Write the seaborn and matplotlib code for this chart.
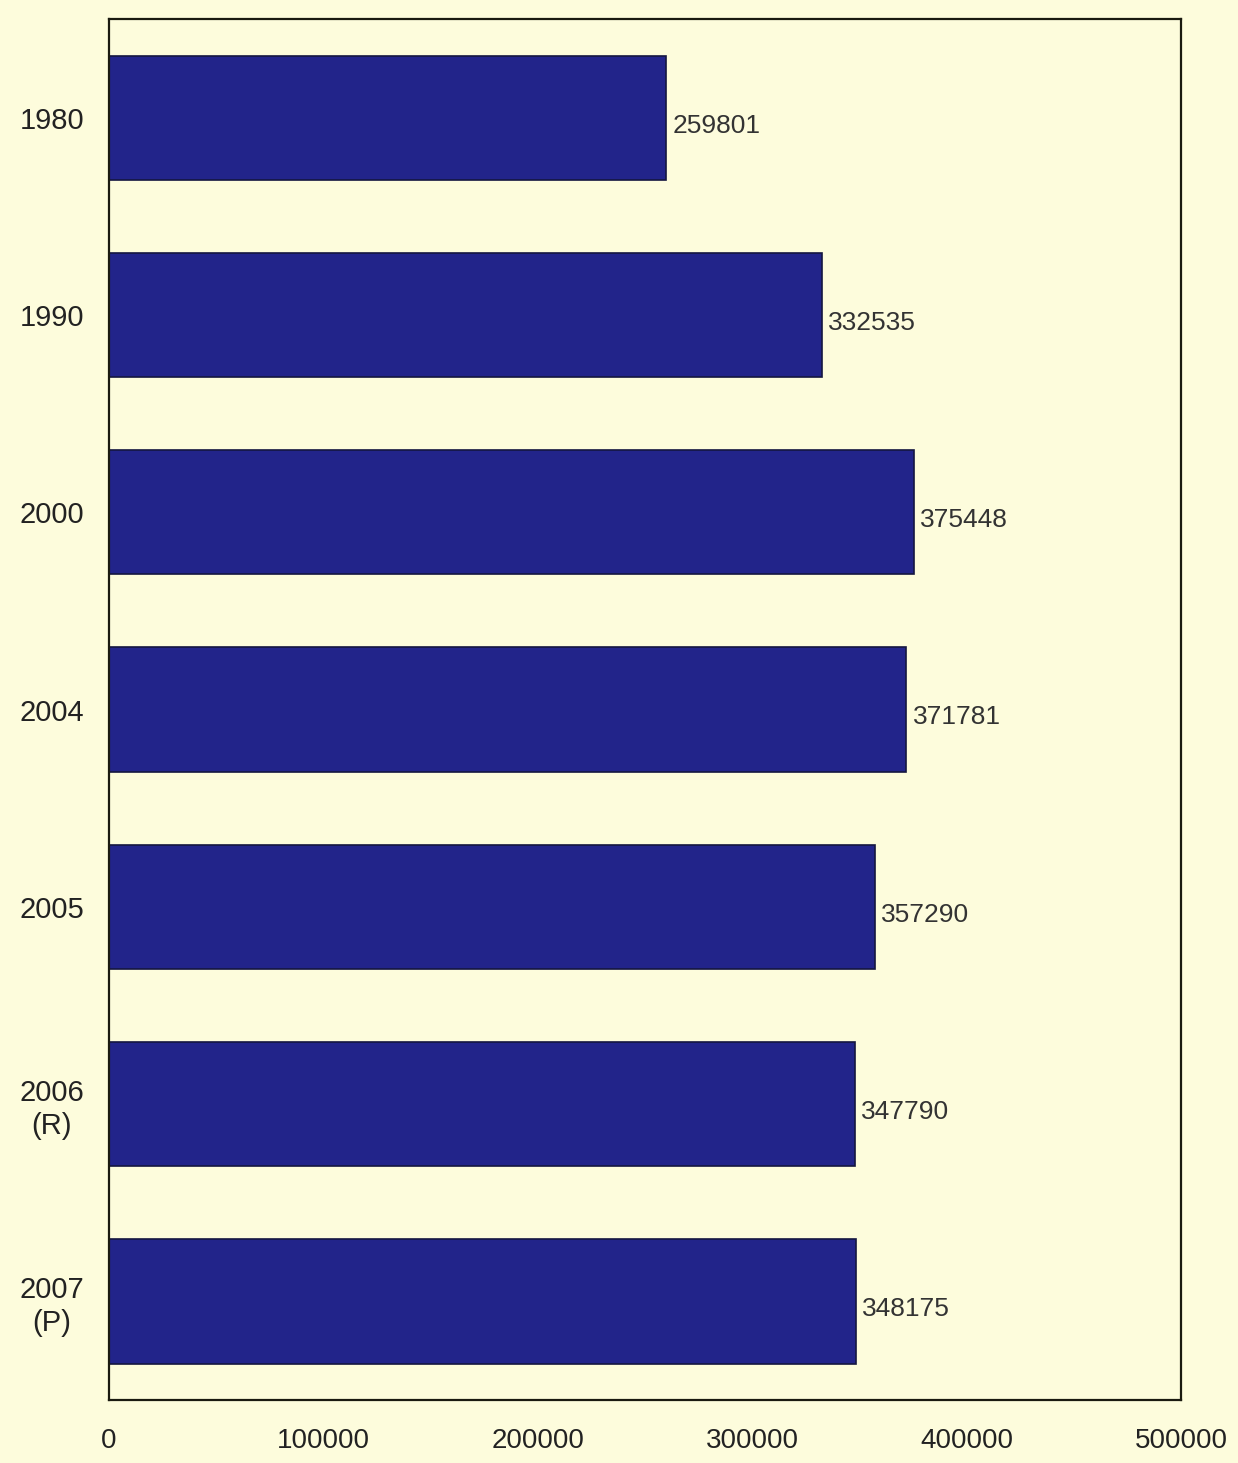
import matplotlib
matplotlib.use("Agg")
import matplotlib.pyplot as plt
import seaborn as sns
import pandas as pd

years = ["1980", "1990", "2000", "2004", "2005", "2006\n(R)", "2007\n(P)"]
values = [259801, 332535, 375448, 371781, 357290, 347790, 348175]
xticks = [0, 100000, 200000, 300000, 400000, 500000]

sns.set_theme(style="white")
plt.rcParams['font.family'] = ['Liberation Sans', 'DejaVu Sans']

bg = "#FDFCDC"
bar_color = "#22248A"

df = pd.DataFrame({"year": years, "value": values})

fig = plt.figure(figsize=(12.38, 14.63), dpi=100, facecolor=bg)
ax = fig.add_axes([0.088, 0.043, 0.866, 0.944])
ax.set_facecolor(bg)

sns.barplot(data=df, y="year", x="value", orient="h", color=bar_color,
            saturation=1, width=0.63, edgecolor="#141640", linewidth=1.2, ax=ax)

for i, v in enumerate(values):
    ax.text(v + 3000, i + 0.04, str(v), va="center", ha="left",
            fontsize=19, color="#333333")

ax.set_xlim(0, 500000)
ax.set_ylim(6.5, -0.5)
ax.set_xticks(xticks)
ax.set_xticklabels([str(t) for t in xticks], fontsize=20, color="#222222")
ax.tick_params(axis="x", pad=20, length=0)
ax.tick_params(axis="y", length=0, pad=18, labelsize=21, labelcolor="#222222")
for lab in ax.get_yticklabels():
    lab.set_multialignment("center")
ax.set_xlabel("")
ax.set_ylabel("")
for s in ax.spines.values():
    s.set_visible(True)
    s.set_color("#1a1a10")
    s.set_linewidth(1.6)

fig.savefig("out.png", dpi=100, facecolor=bg)
